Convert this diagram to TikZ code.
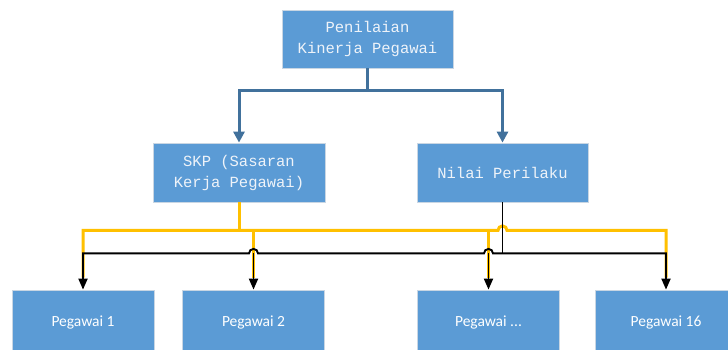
\documentclass[tikz,border=0pt]{standalone}
\usepackage{fontspec}
\newfontfamily\monofnt{Liberation Mono}
\newfontfamily\carlitofnt{Carlito}
\usetikzlibrary{arrows.meta}
\definecolor{boxblue}{HTML}{5B9BD5}
\definecolor{boxedge}{HTML}{C9D6E3}
\definecolor{linkblue}{HTML}{41719C}
\definecolor{gold}{HTML}{FFC000}
\definecolor{softwhite}{HTML}{EEF3F9}
\begin{document}
\begin{tikzpicture}[x=1pt,y=-1pt,
  box/.style={rectangle, fill=boxblue, draw=boxedge, line width=0.8pt, inner sep=0pt, align=center, text=white},
  topbox/.style={box, text=softwhite, font=\monofnt\fontsize{15.5}{21}\selectfont},
  botbox/.style={box, font=\carlitofnt\fontsize{15.5}{18}\selectfont, minimum width=142pt, minimum height=64pt},
  bluelink/.style={draw=linkblue, line width=3pt},
  bluearrow/.style={bluelink, -{Triangle[width=11pt,length=11pt]}},
  goldlink/.style={draw=gold, line width=3pt},
  blacklink/.style={draw=black, line width=1.9pt},
  blackarrow/.style={blacklink, -{Triangle[width=9pt,length=11pt]}},
  blackarrows/.style={blacklink, {Triangle[width=9pt,length=11pt]}-{Triangle[width=9pt,length=11pt]}}
]
\useasboundingbox (0,0) rectangle (728,349);
\clip (0,0) rectangle (728,349);
\fill[white] (0,0) rectangle (728,349);

\node[topbox, minimum width=171pt, minimum height=58pt] (top) at (367.5,39) {Penilaian\\Kinerja Pegawai};
\node[topbox, minimum width=172pt, minimum height=59pt] (skp) at (239,172.5) {SKP (Sasaran\\Kerja Pegawai)};
\node[topbox, minimum width=171pt, minimum height=59pt] (nilai) at (502.5,172.5) {Nilai Perilaku};
\node[botbox] (p1) at (83,322) {Pegawai 1};
\node[botbox] (p2) at (253.5,322) {Pegawai 2};
\node[botbox] (pd) at (488.5,322) {Pegawai ...};
\node[botbox] (p16) at (666,322) {Pegawai 16};

% blue links
\coordinate (bbus) at ([yshift=-22pt]top.south);
\draw[bluearrow] (top.south) -- (bbus) -| (skp.north);
\draw[bluearrow] (bbus) -| (nilai.north);

% gold links
\coordinate (gbus) at ([yshift=-28pt]skp.south);
\coordinate (ghop) at (nilai.south |- gbus);
\draw[goldlink] (skp.south) -- (gbus);
\draw[goldlink] ([yshift=12pt]p1.north) -- (p1.north |- gbus) -- ([xshift=-4.5pt]ghop)
  arc[start angle=180, end angle=0, radius=4.5pt] -- (p16.north |- gbus) -- ([yshift=12pt]p16.north);
\draw[goldlink] (p2.north |- gbus) -- ([yshift=12pt]p2.north);
\draw[goldlink] (pd.north |- gbus) -- ([yshift=12pt]pd.north);

% black links
\coordinate (kbus) at ([yshift=-51pt]nilai.south);
\coordinate (kh2) at (p2.north |- kbus);
\coordinate (khd) at (pd.north |- kbus);
\draw[blacklink] (nilai.south) -- (kbus);
\draw[blackarrows] (p1.north) -- (p1.north |- kbus) -- ([xshift=-4.5pt]kh2)
  arc[start angle=180, end angle=0, radius=4.5pt] -- ([xshift=-4.5pt]khd)
  arc[start angle=180, end angle=0, radius=4.5pt] -- (p16.north |- kbus) -- (p16.north);
\draw[blackarrow] (kh2) -- (p2.north);
\draw[blackarrow] (khd) -- (pd.north);
\end{tikzpicture}
\end{document}
